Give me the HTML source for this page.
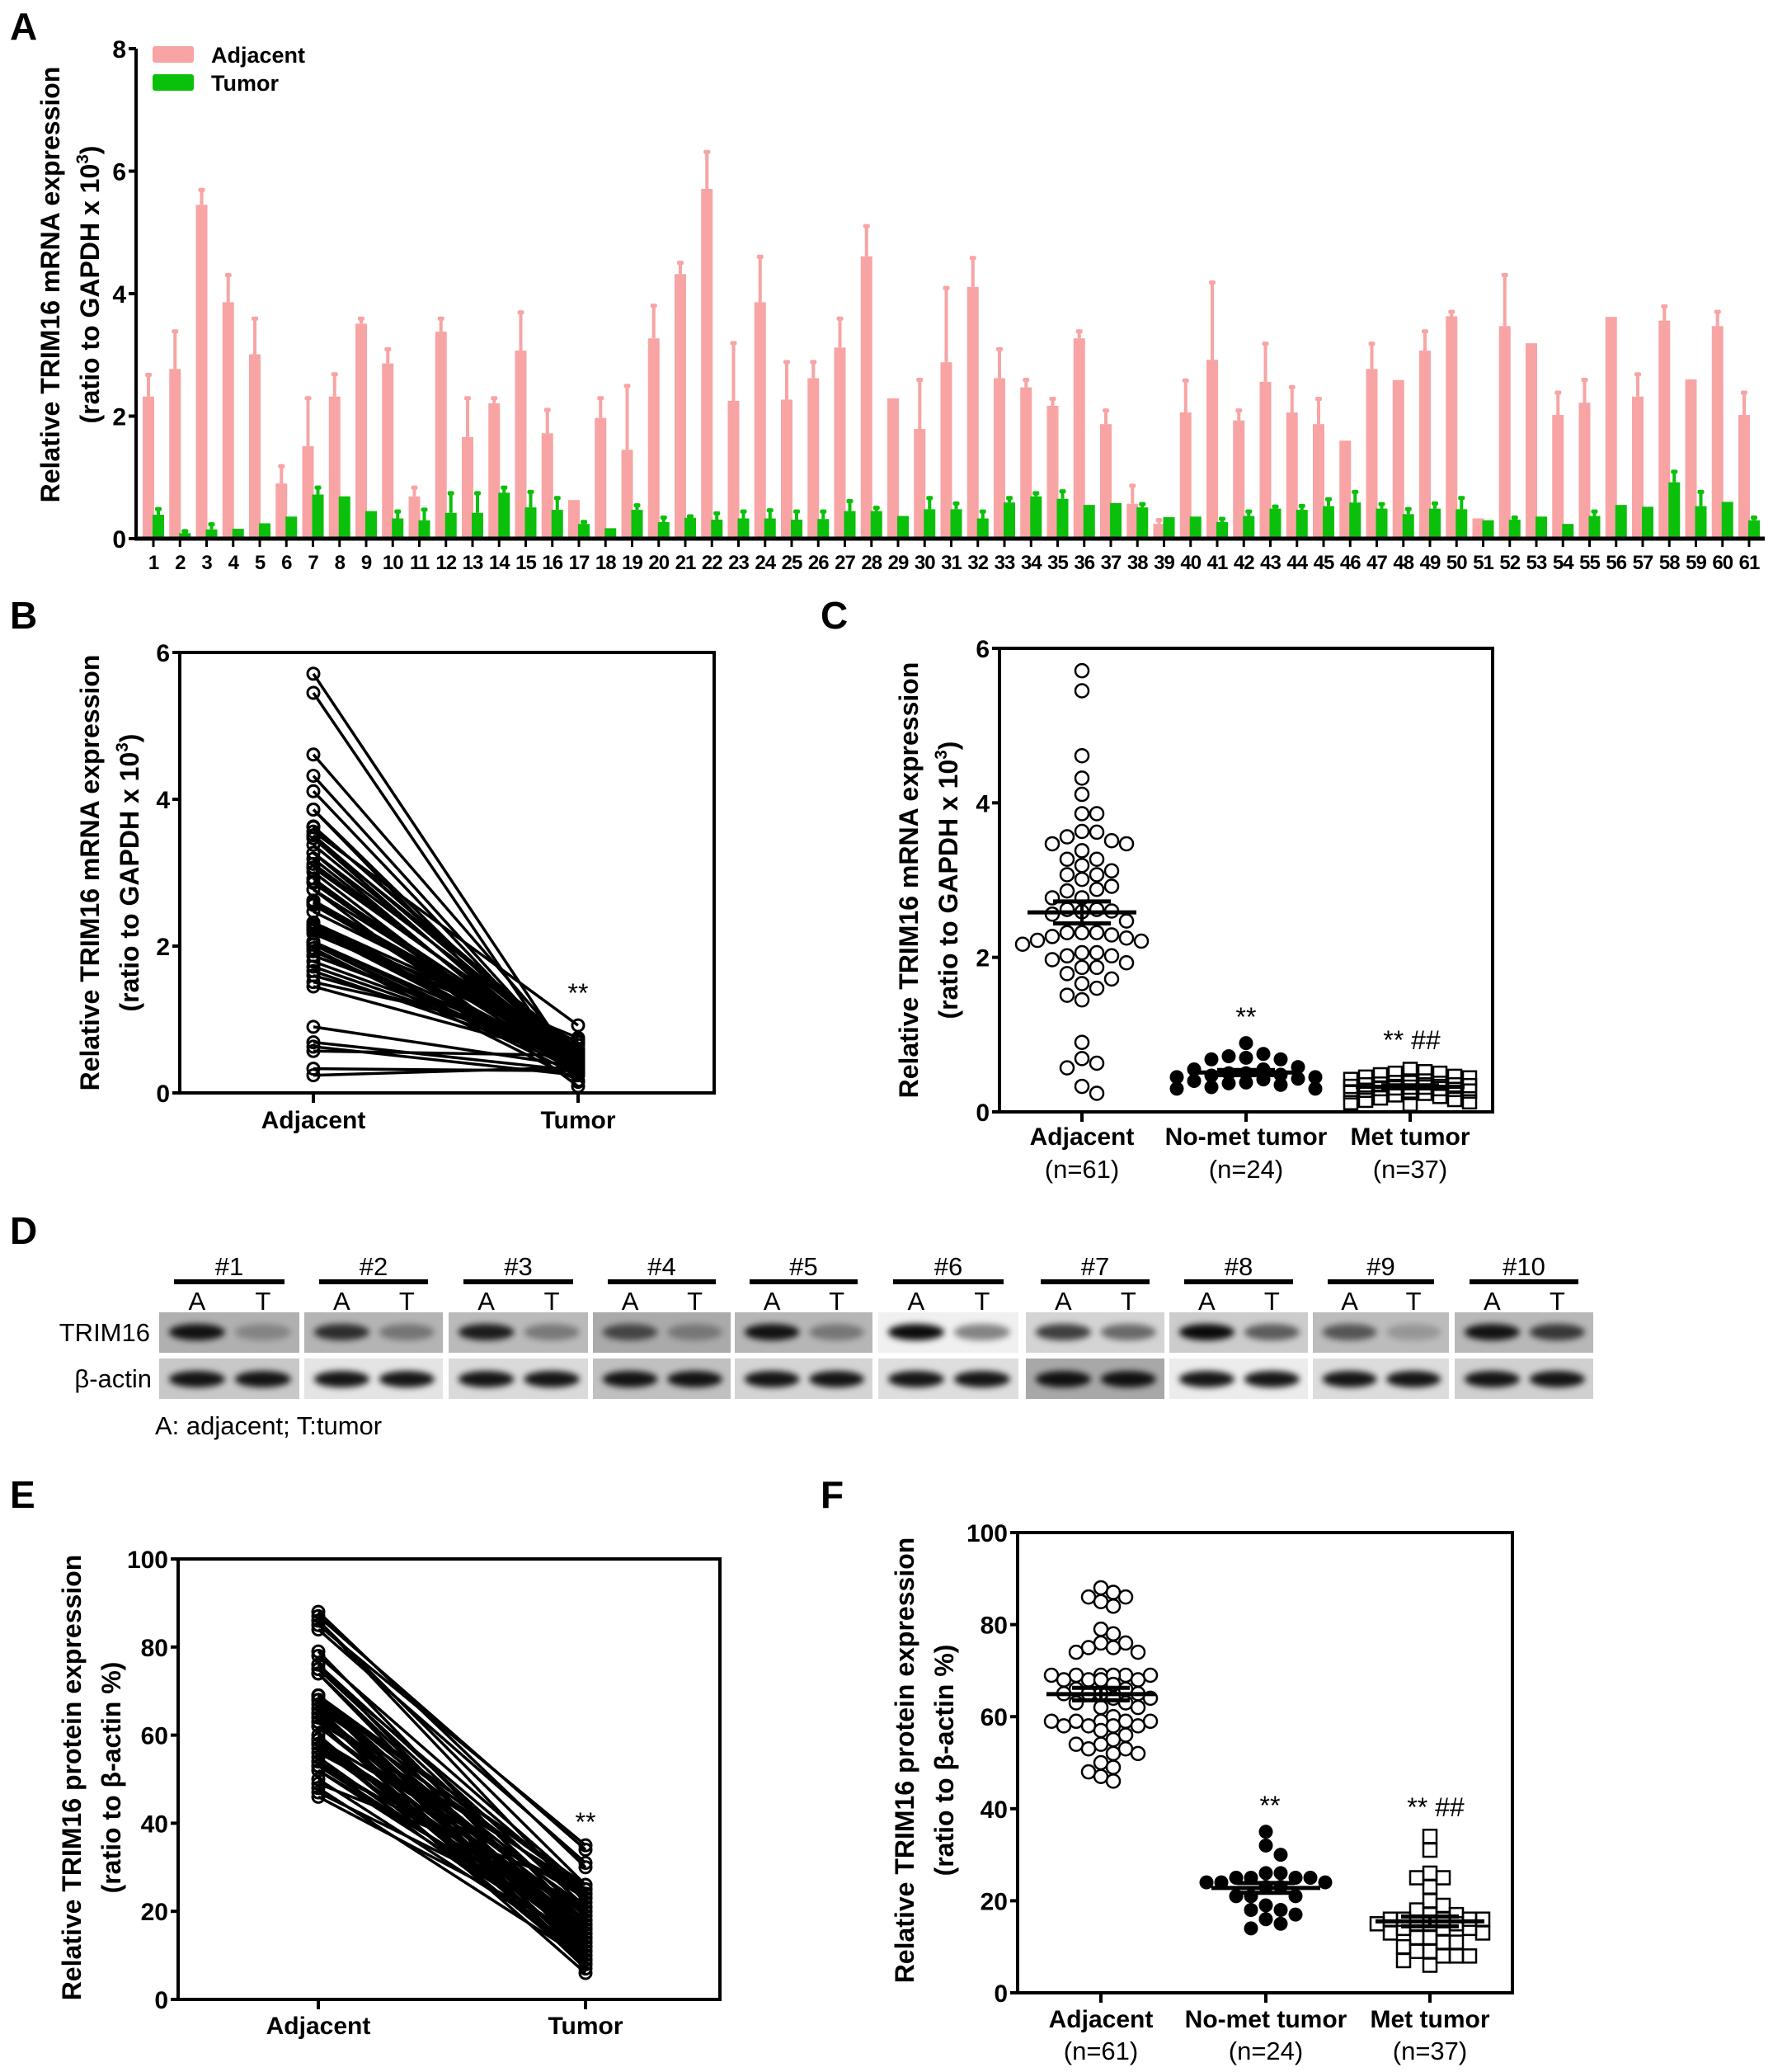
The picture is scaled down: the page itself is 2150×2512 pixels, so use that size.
<!DOCTYPE html>
<html><head><meta charset="utf-8"><style>
html,body{margin:0;padding:0;background:#fff}
svg{display:block}
text{font-family:"Liberation Sans",sans-serif}
</style></head><body>
<svg id="fig" xmlns="http://www.w3.org/2000/svg" width="2150" height="2512" viewBox="0 0 2150 2512">
<defs>
<filter id="blur" x="-30%" y="-60%" width="160%" height="220%"><feGaussianBlur stdDeviation="4"/></filter>
</defs>
<rect width="2150" height="2512" fill="#fff"/>
<g id="gA"></g>
<g id="gB"></g>
<g id="gC"></g>
<g id="gD"></g>
<g id="gE"></g>
<g id="gF"></g>
</svg>
<script>
// ---------- data ----------
const categories = Array.from({length:61},(_, i)=>String(i+1));
const adjacentMean = [2.32,2.77,5.45,3.86,3.01,0.9,1.51,2.32,3.51,2.86,0.69,3.38,1.66,2.21,3.07,1.72,0.63,1.97,1.45,3.27,4.32,5.71,2.25,3.86,2.27,2.62,3.12,4.61,2.29,1.79,2.88,4.11,2.62,2.47,2.17,3.27,1.87,0.57,0.24,2.06,2.92,1.93,2.56,2.06,1.87,1.6,2.77,2.59,3.07,3.63,0.33,3.47,3.19,2.02,2.22,3.62,2.32,3.56,2.6,3.47,2.02];
const adjacentErrTop = [2.68,3.39,5.7,4.31,3.6,1.19,2.3,2.69,3.6,3.1,0.84,3.6,2.3,2.3,3.7,2.11,0.63,2.3,2.5,3.81,4.51,6.32,3.2,4.61,2.89,2.89,3.6,5.11,2.29,2.6,4.1,4.59,3.1,2.6,2.29,3.39,2.1,0.87,0.31,2.59,4.19,2.1,3.19,2.48,2.29,1.6,3.19,2.59,3.39,3.71,0.33,4.31,3.19,2.39,2.6,3.62,2.69,3.8,2.6,3.71,2.39];
const tumorMean = [0.39,0.09,0.15,0.16,0.25,0.36,0.72,0.69,0.45,0.33,0.3,0.42,0.42,0.75,0.51,0.47,0.24,0.17,0.47,0.27,0.34,0.31,0.33,0.33,0.31,0.32,0.45,0.45,0.37,0.48,0.48,0.33,0.59,0.69,0.65,0.55,0.58,0.51,0.35,0.36,0.27,0.37,0.49,0.47,0.53,0.59,0.49,0.4,0.49,0.48,0.3,0.31,0.36,0.24,0.37,0.55,0.52,0.92,0.53,0.6,0.3];
const tumorErrTop = [0.49,0.13,0.24,0.16,0.25,0.36,0.84,0.69,0.45,0.45,0.48,0.75,0.75,0.84,0.77,0.67,0.28,0.17,0.55,0.35,0.37,0.42,0.45,0.47,0.45,0.45,0.62,0.51,0.37,0.67,0.58,0.45,0.67,0.75,0.78,0.55,0.58,0.57,0.35,0.36,0.33,0.45,0.53,0.54,0.65,0.77,0.57,0.49,0.58,0.67,0.31,0.35,0.36,0.24,0.45,0.55,0.52,1.1,0.77,0.6,0.35];
const mrnaTicks = [0,2,4,6,8];
const mrnaTicksBC = [0,2,4,6];
const mrnaNoMet = [0.89,0.75,0.68,0.7,0.68,0.72,0.58,0.55,0.55,0.5,0.5,0.48,0.47,0.45,0.45,0.43,0.42,0.4,0.38,0.37,0.35,0.32,0.3,0.3];
const mrnaMet = [0.55,0.52,0.5,0.5,0.48,0.46,0.45,0.44,0.42,0.4,0.4,0.38,0.37,0.36,0.35,0.35,0.34,0.33,0.32,0.32,0.31,0.3,0.3,0.29,0.28,0.27,0.26,0.25,0.24,0.22,0.2,0.18,0.16,0.15,0.13,0.12,0.1];
const protAdjacent = [88,87,86,86,85,84,79,78,76,76,75,75,74,74,69,69,69,69,69,69,68,68,68,68,67,66,66,65,65,65,65,64,64,63,63,62,62,60,59,59,59,59,59,58,58,58,58,57,56,55,54,54,53,53,52,52,50,49,48,47,46];
const protNoMet = [35,32,30,26,26,25,25,25,25,24,24,24,23,23,21,21,21,19,18,18,17,16,15,14];
const protMet = [34,31,26,25,25,23,20,19,18,17,17,16,16,16,16,16,15,15,15,15,14,14,14,13,13,12,12,11,11,10,9,9,8,8,8,7,6];
const protTumorPaired = [30,34,26,22,35,31,17,25,21,14,24,19,12,16,25,20,9,23,15,11,18,8,26,13,16,10,24,7,19,15,12,21,16,8,25,14,18,9,6,15,23,13,11,17,20,8,16,14,24,12,18,10,15,21,16,13,11,25,9,17,14];
const protTicks = [0,20,40,60,80,100];
const groupLabels = ["Adjacent","No-met tumor","Met tumor"];
const groupN = ["(n=61)","(n=24)","(n=37)"];
const pairLabels = ["Adjacent","Tumor"];

// ---------- helpers ----------
const NS="http://www.w3.org/2000/svg";
function mk(parent, tag, attrs, txt){
  const e=document.createElementNS(NS,tag);
  for(const k in attrs) e.setAttribute(k,attrs[k]);
  if(txt!==undefined) e.textContent=txt;
  parent.appendChild(e); return e;
}
function lin(d0,d1,r0,r1){return v=>r0+(v-d0)*(r1-r0)/(d1-d0);}
function mean(a){return a.reduce((s,v)=>s+v,0)/a.length;}
function sem(a){const m=mean(a);const sd=Math.sqrt(a.reduce((s,v)=>s+(v-m)*(v-m),0)/(a.length-1));return sd/Math.sqrt(a.length);}
function panelLabel(g,x,y,t){
  const e=mk(g,'text',{x:x,y:y,'font-size':46,'font-weight':'bold'},t);
  
  
}
function yTitle(g,cx,cy,l1,fs,sup,name){
  const t=mk(g,'text',{transform:`translate(${cx},${cy}) rotate(-90)`,'text-anchor':'middle','font-size':fs,'font-weight':'bold'});
  
  
  mk(t,'tspan',{x:0,y:0},l1);
  mk(t,'tspan',{x:0,dy:fs*1.5},l1.indexOf('protein')>=0?'(ratio to  \u03B2-actin %)':'(ratio to  GAPDH x 10');
  if(sup){mk(t,'tspan',{dy:-fs*0.4,'font-size':fs*0.65},'3');mk(t,'tspan',{dy:fs*0.4},')');}
}
function yAxisTicks(g,x,ys,ticks,fs,name){
  ticks.forEach(v=>{
    const y=ys(v);
    const l=mk(g,'line',{x1:x-9,x2:x,y1:y,y2:y,stroke:'#000','stroke-width':4});
    
    
    const t=mk(g,'text',{x:x-12,y:y+11,'text-anchor':'end','font-size':fs,'font-weight':'bold'},String(v));
    
    
  });
}
function box(g,l,t,r,b,name){
  const e=mk(g,'rect',{x:l,y:t,width:r-l,height:b-t,fill:'none',stroke:'#000','stroke-width':4});
  
  
}
function beeswarm(vals,ys,cx,minD,step,maxOff){
  const idx=vals.map((v,i)=>i).sort((a,b)=>vals[b]-vals[a]);
  const placed=[];const xs=new Array(vals.length);
  idx.forEach(i=>{
    const y=ys(vals[i]);
    let best=cx,bestD=-1;
    for(let k=0;k<60;k++){
      const off=(k===0?0:(k%2?1:-1)*Math.ceil(k/2)*step);
      if(Math.abs(off)>maxOff) break;
      const x=cx+off;
      const d=placed.reduce((m,p)=>Math.min(m,Math.hypot(p[0]-x,p[1]-y)),1e9);
      if(d>=minD){best=x;bestD=1e9;break;}
      if(d>bestD){bestD=d;best=x;}
    }
    placed.push([best,y]);xs[i]=best;
  });
  return xs;
}

// ---------- Panel A ----------
(function(){
  const g=document.getElementById('gA');
  const x0=165,xEnd=2140,yB=653,yT=59;
  const ys=lin(0,8,yB,yT);
  const xc=i=>186+i*32.25;
  panelLabel(g,12,48,'A');
  yTitle(g,72,345,'Relative TRIM16 mRNA expression',32,true,'y-axis-title-a');
  categories.forEach((c,i)=>{
    const cx=xc(i);
    const ab=mk(g,'rect',{x:cx-13,y:ys(adjacentMean[i]),width:14,height:yB-ys(adjacentMean[i]),fill:'#f8a4a4'});
    
    
    if(adjacentErrTop[i]>adjacentMean[i]+0.02){
      const el=mk(g,'line',{x1:cx-6,x2:cx-6,y1:ys(adjacentMean[i]),y2:ys(adjacentErrTop[i]),stroke:'#f8a4a4','stroke-width':4});
      
      
      const cp=mk(g,'rect',{x:cx-10,y:ys(adjacentErrTop[i])-2,width:8,height:5,rx:2,fill:'#f8a4a4'});
      
      
    }
  });
  categories.forEach((c,i)=>{
    const cx=xc(i);
    const tb=mk(g,'rect',{x:cx-1,y:ys(tumorMean[i]),width:14,height:yB-ys(tumorMean[i]),fill:'#0ac00a'});
    
    
    if(tumorErrTop[i]>tumorMean[i]+0.02){
      const el=mk(g,'line',{x1:cx+6,x2:cx+6,y1:ys(tumorMean[i]),y2:ys(tumorErrTop[i]),stroke:'#0ac00a','stroke-width':4});
      
      
      const cp=mk(g,'rect',{x:cx+2,y:ys(tumorErrTop[i])-2,width:8,height:5,rx:2,fill:'#0ac00a'});
      
      
    }
    const tk=mk(g,'line',{x1:cx,x2:cx,y1:yB,y2:yB+10,stroke:'#000','stroke-width':3});
    
    
    const tl=mk(g,'text',{x:cx,y:yB+37,'text-anchor':'middle','font-size':24,'font-weight':'bold','letter-spacing':-1},c);
    
    
  });
  const ya=mk(g,'line',{x1:x0,x2:x0,y1:yT,y2:yB+2,stroke:'#000','stroke-width':4});
  
  
  const xa=mk(g,'line',{x1:x0-2,x2:xEnd,y1:yB,y2:yB,stroke:'#000','stroke-width':5});
  
  
  yAxisTicks(g,x0,ys,mrnaTicks,30,'y-axis-a');
  const l1=mk(g,'rect',{x:185,y:56,width:50,height:20,rx:3,fill:'#f8a4a4'});
  
  
  const t1=mk(g,'text',{x:256,y:76,'font-size':27,'font-weight':'bold'},'Adjacent');
  
  
  const l2=mk(g,'rect',{x:185,y:90,width:50,height:20,rx:3,fill:'#0ac00a'});
  
  
  const t2=mk(g,'text',{x:256,y:110,'font-size':27,'font-weight':'bold'},'Tumor');
  
  
})();

// ---------- paired panels (B, E) ----------
function paired(gid,L,T,R,B,xa,xt,dom,ticks,adj,tum,title,sup,lab,labY,starY,xlabY,titleX,titleY){
  const g=document.getElementById(gid);
  const ys=lin(dom[0],dom[1],B,T);
  panelLabel(g,12,labY,lab);
  yTitle(g,titleX,titleY,title,32,sup,'y-axis-title-'+lab.toLowerCase());
  box(g,L,T,R,B,'plot-frame-'+lab.toLowerCase());
  yAxisTicks(g,L,ys,ticks,30,'y-axis-'+lab.toLowerCase());
  [xa,xt].forEach((x,k)=>{
    const tk=mk(g,'line',{x1:x,x2:x,y1:B,y2:B+12,stroke:'#000','stroke-width':4});
    
    
    const tl=mk(g,'text',{x:x,y:xlabY,'text-anchor':'middle','font-size':30,'font-weight':'bold'},pairLabels[k]);
    
    
  });
  adj.forEach((v,i)=>{
    const ln=mk(g,'line',{x1:xa,y1:ys(v),x2:xt,y2:ys(tum[i]),stroke:'#000','stroke-width':3.5});
    
    
  });
  adj.forEach((v,i)=>{
    const c1=mk(g,'circle',{cx:xa,cy:ys(v),r:7,fill:'none',stroke:'#000','stroke-width':3});
    
    
    const c2=mk(g,'circle',{cx:xt,cy:ys(tum[i]),r:7,fill:'none',stroke:'#000','stroke-width':3});
    
    
  });
  const st=mk(g,'text',{x:xt,y:starY,'text-anchor':'middle','font-size':32,'font-family':'Liberation Serif, serif'},'**');
  
  
}
paired('gB',218,791,866,1325,380,701,[0,6],mrnaTicksBC,adjacentMean,tumorMean,'Relative TRIM16 mRNA expression',true,'B',762,1215,1368,120,1058);
paired('gE',216,1890,873,2424,386,710,[0,100],protTicks,protAdjacent,protTumorPaired,'Relative TRIM16 protein expression',false,'E',1828,2220,2466,98,2155);

// ---------- scatter panels (C, F) ----------
function scatter(gid,L,T,R,B,xs3,dom,ticks,sets,title,sup,lab,labY,stars,xlabY,nY,titleX,titleY,maxOffs){
  const g=document.getElementById(gid);
  const ys=lin(dom[0],dom[1],B,T);
  panelLabel(g,995,labY,lab);
  yTitle(g,titleX,titleY,title,32,sup,'y-axis-title-'+lab.toLowerCase());
  box(g,L,T,R,B,'plot-frame-'+lab.toLowerCase());
  yAxisTicks(g,L,ys,ticks,30,'y-axis-'+lab.toLowerCase());
  sets.forEach((vals,k)=>{
    const cx=xs3[k];
    const tk=mk(g,'line',{x1:cx,x2:cx,y1:B,y2:B+12,stroke:'#000','stroke-width':4});
    
    
    const tl=mk(g,'text',{x:cx,y:xlabY,'text-anchor':'middle','font-size':30,'font-weight':'bold'},groupLabels[k]);
    
    
    const tn=mk(g,'text',{x:cx,y:nY,'text-anchor':'middle','font-size':31},groupN[k]);
    
    
    const xs=beeswarm(vals,ys,cx,16,maxOffs[k]/4,maxOffs[k]);
    vals.forEach((v,i)=>{
      let e;
      if(k===0){e=mk(g,'circle',{cx:xs[i],cy:ys(v),r:8,fill:'#fff',stroke:'#000','stroke-width':2.5});
        }
      else if(k===1){e=mk(g,'circle',{cx:xs[i],cy:ys(v),r:8.5,fill:'#000'});
        }
      else {e=mk(g,'rect',{x:xs[i]-8,y:ys(v)-8,width:16,height:16,fill:'none',stroke:'#000','stroke-width':2.5});
        }
      
    });
    const m=mean(vals),s=sem(vals);
    const ml=mk(g,'line',{x1:cx-66,x2:cx+66,y1:ys(m),y2:ys(m),stroke:'#000','stroke-width':5});
    
    
    const sl=mk(g,'line',{x1:cx,x2:cx,y1:ys(m-s),y2:ys(m+s),stroke:'#000','stroke-width':4});
    
    
    [m-s,m+s].forEach(v=>{
      const c=mk(g,'line',{x1:cx-35,x2:cx+35,y1:ys(v),y2:ys(v),stroke:'#000','stroke-width':5});
      
      
    });
  });
  stars.forEach(s=>{
    const t=mk(g,'text',{x:s[0],y:s[1],'text-anchor':'middle','font-size':32,'font-family':'Liberation Serif, serif'},s[2]);
    
    
  });
}
scatter('gC',1212,786,1810,1348,[1312,1511,1710],[0,6],mrnaTicksBC,[adjacentMean,mrnaNoMet,mrnaMet],'Relative TRIM16 mRNA expression',true,'C',762,[[1511,1244,'**'],[1712,1272,'** ##']],1388,1428,1113,1067,[72,84,72]);
scatter('gF',1234,1858,1834,2416,[1335,1535,1734],[0,100],protTicks,[protAdjacent,protNoMet,protMet],'Relative TRIM16 protein expression',false,'F',1828,[[1540,2200,'**'],[1741,2202,'** ##']],2458,2497,1108,2134,[60,72,64]);

// ---------- Panel D (western blot) ----------
(function(){
  const g=document.getElementById('gD');
  panelLabel(g,12,1508,'D');
  const panels=[[193,363],[369,537],[544,713],[719,886],[891,1058],[1065,1235],[1244,1412],[1418,1586],[1592,1757],[1764,1932]];
  const bg=['#b0b0b0','#b4b4b4','#bababa','#aaaaaa','#b6b6b6','#f0f0f0','#d4d4d4','#cccccc','#bcbcbc','#b8b8b8'];
  const bgA=['#c8c8c8','#e4e4e4','#dadada','#c0c0c0','#d4d4d4','#dedede','#a8a8a8','#ececec','#dcdcdc','#d0d0d0'];
  const trA=[0.9,0.75,0.85,0.6,0.9,0.95,0.7,0.95,0.55,0.9];
  const trT=[0.25,0.35,0.35,0.3,0.35,0.45,0.5,0.55,0.2,0.7];
  const row1=[1591,1640],row2=[1647,1696];
  panels.forEach((p,i)=>{
    const w=p[1]-p[0];
    const xA=p[0]+w*0.27,xT=p[0]+w*0.74;
    const r1=mk(g,'rect',{x:p[0],y:row1[0],width:w,height:row1[1]-row1[0],fill:bg[i]});
    
    
    const r2=mk(g,'rect',{x:p[0],y:row2[0],width:w,height:row2[1]-row2[0],fill:bgA[i]});
    
    
    [[xA,trA[i]],[xT,trT[i]]].forEach(b=>{
      const e=mk(g,'ellipse',{cx:b[0],cy:1615,rx:w*0.2,ry:10,fill:'#000','fill-opacity':b[1],filter:'url(#blur)'});
      
      
    });
    [xA,xT].forEach(x=>{
      const e=mk(g,'ellipse',{cx:x,cy:1672,rx:w*0.2,ry:10,fill:'#000','fill-opacity':0.9,filter:'url(#blur)'});
      
      
    });
    const cx=(p[0]+p[1])/2;
    const hb=mk(g,'rect',{x:p[0]+18,y:1551,width:w-36,height:6,fill:'#000'});
    
    
    const ht=mk(g,'text',{x:cx,y:1546,'text-anchor':'middle','font-size':31},'#'+(i+1));
    
    
    const ta=mk(g,'text',{x:xA,y:1588,'text-anchor':'middle','font-size':31},'A');
    
    
    const tt=mk(g,'text',{x:xT,y:1588,'text-anchor':'middle','font-size':31},'T');
    
    
  });
  const l1=mk(g,'text',{x:182,y:1626,'text-anchor':'end','font-size':31},'TRIM16');
  
  
  const l2=mk(g,'text',{x:184,y:1682,'text-anchor':'end','font-size':31},'\u03B2-actin');
  
  
  const cap=mk(g,'text',{x:188,y:1739,'font-size':31},'A: adjacent; T:tumor');
  
  
})();
</script>
</body></html>
